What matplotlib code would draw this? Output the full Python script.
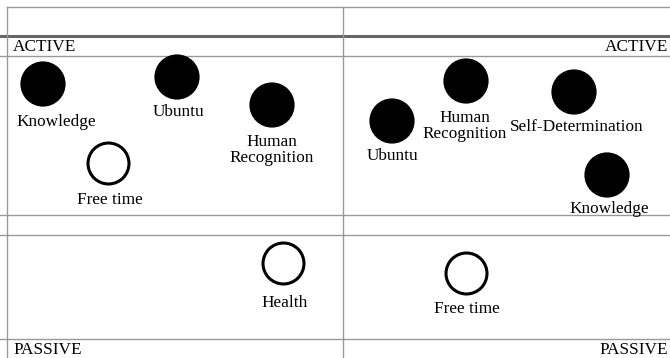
import matplotlib
matplotlib.use("Agg")
from matplotlib import pyplot as plt

plt.rcParams['font.family'] = ['Liberation Serif', 'DejaVu Serif']

# items in the two panels (positions on the grid, label positions)
left_names = ["Knowledge", "Ubuntu", "Human\nRecognition", "Free time", "Health"]
left_x = [43, 177, 272, 108, 283]
left_y = [84, 77, 105, 163, 263]
left_filled = [True, True, True, False, False]
left_label_x = [56, 179, 272, 110, 285]
left_label_y = [122, 112, 150, 200, 303]

right_names = ["Ubuntu", "Human\nRecognition", "Self-Determination", "Knowledge", "Free time"]
right_x = [392, 466, 574, 607, 466]
right_y = [121, 81, 92, 175, 273]
right_filled = [True, True, True, True, False]
right_label_x = [393, 465, 577, 609, 467]
right_label_y = [156, 126, 127, 209, 309]

W, H = 670, 358
fig = plt.figure(figsize=(6.7, 3.58), dpi=100)
ax = fig.add_axes([0, 0, 1, 1])
ax.set_xlim(0, W)
ax.set_ylim(H, 0)
ax.axis('off')

grid = '#999999'
#table lines
ax.plot([7, W], [7, 7], color=grid, lw=1)
ax.plot([0, W], [36, 36], color='#666666', lw=2.2)
for y in [56, 215, 235, 339]:
    ax.plot([0, W], [y, y], color=grid, lw=1)
for x in [7, 343]:
    ax.plot([x, x], [7, H], color=grid, lw=1)

fs = 12.4
ax.text(13, 47, "ACTIVE", fontsize=fs, va='center', ha='left')
ax.text(668, 47, "ACTIVE", fontsize=fs, va='center', ha='right')
ax.text(13, 350, "PASSIVE", fontsize=fs, va='center', ha='left')
ax.text(668, 350, "PASSIVE", fontsize=fs, va='center', ha='right')

def draw(names, xs, ys, filled, lx, ly):
    for i in range(len(names)):
        if filled[i]:
            ax.scatter(xs[i], ys[i], s=1060, color='black', edgecolors='none', zorder=3)
        else:
            ax.scatter(xs[i], ys[i], s=870, facecolors='white', edgecolors='black', linewidths=2.2, zorder=3)
        ax.text(lx[i], ly[i], names[i], fontsize=fs, ha='center', va='center',
                multialignment='center', linespacing=0.95)

draw(left_names, left_x, left_y, left_filled, left_label_x, left_label_y)
draw(right_names, right_x, right_y, right_filled, right_label_x, right_label_y)

fig.savefig("out.png", dpi=100)
